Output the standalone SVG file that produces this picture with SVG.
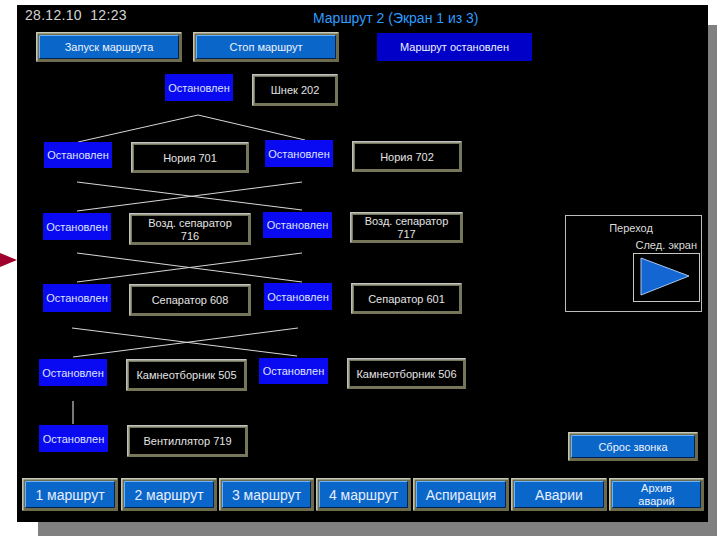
<svg xmlns="http://www.w3.org/2000/svg" width="717" height="536" viewBox="0 0 717 536">
<style>
text{font-family:"Liberation Sans",Arial,sans-serif;}
.nb{fill:#000;stroke:#76765a;stroke-width:3;}
.nh{fill:none;stroke:#c4c4c4;stroke-width:1.5;}
.bf{fill:#0a66c8;stroke:#6c6c4c;stroke-width:3;}
.bh{fill:none;stroke:#c8c8b8;stroke-width:1.5;}
.bi{fill:none;stroke:#6ab4ff;stroke-width:1;}
.bs{fill:none;stroke:#002050;stroke-width:1;}
.st{fill:#0a0af2;}
.lt{font-size:11px;fill:#dde3ff;text-anchor:middle;}
.nt{font-size:11px;fill:#e4e4e4;text-anchor:middle;}
.btx{font-size:11px;fill:#eef3ff;text-anchor:middle;}
.bbt{font-size:14px;fill:#e6eeff;text-anchor:middle;}
.cn{stroke:#d8d8d8;stroke-width:1;fill:none;}
</style>
<rect x="0" y="0" width="717" height="536" fill="#ffffff"/>
<rect x="708" y="25" width="9" height="511" fill="#808080"/>
<rect x="38" y="522" width="679" height="14" fill="#808080"/>
<rect x="17" y="5" width="691" height="517" fill="#000000"/>
<polygon points="0,253 17,260 0,267" fill="#a0002c"/>

<text x="25" y="20" font-size="14" fill="#d4d4d4" letter-spacing="0.3" xml:space="preserve">28.12.10  12:23</text>
<text x="313" y="23" font-size="14" fill="#2e9cff">Маршрут 2 (Экран 1 из 3)</text>

<g id="connectors">
<polyline class="cn" points="78,142 198,115 305,140"/>
<line class="cn" x1="77" y1="182" x2="302" y2="210"/>
<line class="cn" x1="77" y1="211" x2="302" y2="182"/>
<line class="cn" x1="77" y1="253" x2="302" y2="282"/>
<line class="cn" x1="77" y1="282" x2="302" y2="253"/>
<line class="cn" x1="72" y1="328" x2="297" y2="356"/>
<line class="cn" x1="73" y1="357" x2="298" y2="328"/>
<line x1="73" y1="401" x2="73" y2="424" stroke="#a0a0a0" stroke-width="1.5"/>
</g>

<g id="btn-start">
<rect class="bf" x="37.5" y="33.5" width="143" height="27"/>
<path class="bh" d="M36.8 61.2V32.8H181.2"/>
<path class="bi" d="M39.5 58.5V35.5H178.5"/>
<path class="bs" d="M39.5 58.5H178.5V35.5"/>
<text class="btx" x="109" y="51">Запуск маршрута</text>
</g>
<g id="btn-stop">
<rect class="bf" x="194.5" y="33.5" width="143" height="27"/>
<path class="bh" d="M193.8 61.2V32.8H338.2"/>
<path class="bi" d="M196.5 58.5V35.5H335.5"/>
<path class="bs" d="M196.5 58.5H335.5V35.5"/>
<text class="btx" x="266" y="51">Стоп маршрут</text>
</g>
<g id="status-route">
<rect x="377" y="33" width="155" height="28" fill="#0000c8"/>
<text class="btx" x="454.5" y="51">Маршрут остановлен</text>
</g>

<g id="st0"><rect class="st" x="165" y="74" width="68" height="27"/><text class="lt" x="199" y="91.5">Остановлен</text></g>
<g id="shnek202"><rect class="nb" x="253.5" y="75.5" width="83" height="29"/><path class="nh" d="M252.8 105.2V74.8H337.2"/><text class="nt" x="295" y="94">Шнек 202</text></g>

<g id="st1L"><rect class="st" x="44" y="142" width="68" height="26"/><text class="lt" x="78" y="159">Остановлен</text></g>
<g id="noriya701"><rect class="nb" x="132.5" y="143.5" width="115" height="28"/><path class="nh" d="M131.8 172.2V142.8H248.2"/><text class="nt" x="190" y="161.5">Нория 701</text></g>
<g id="st1R"><rect class="st" x="265" y="140" width="68" height="27"/><text class="lt" x="299" y="157.5">Остановлен</text></g>
<g id="noriya702"><rect class="nb" x="353.5" y="142.5" width="107" height="28"/><path class="nh" d="M352.8 171.2V141.8H461.2"/><text class="nt" x="407" y="160.5">Нория 702</text></g>

<g id="st2L"><rect class="st" x="43" y="213" width="68" height="27"/><text class="lt" x="77" y="230.5">Остановлен</text></g>
<g id="vozd716"><rect class="nb" x="130.5" y="214.5" width="119" height="29"/><path class="nh" d="M129.8 244.2V213.8H250.2"/><text class="nt" x="190" y="226.7">Возд. сепаратор</text><text class="nt" x="190" y="240">716</text></g>
<g id="st2R"><rect class="st" x="263" y="212" width="69" height="26"/><text class="lt" x="297.5" y="229">Остановлен</text></g>
<g id="vozd717"><rect class="nb" x="351.5" y="213.5" width="110" height="28"/><path class="nh" d="M350.8 242.2V212.8H462.2"/><text class="nt" x="406.5" y="224.7">Возд. сепаратор</text><text class="nt" x="406.5" y="238.3">717</text></g>

<g id="st3L"><rect class="st" x="43" y="284" width="68" height="28"/><text class="lt" x="77" y="302">Остановлен</text></g>
<g id="sep608"><rect class="nb" x="130.5" y="285.5" width="119" height="29"/><path class="nh" d="M129.8 315.2V284.8H250.2"/><text class="nt" x="190" y="304">Сепаратор 608</text></g>
<g id="st3R"><rect class="st" x="264" y="283" width="68" height="27"/><text class="lt" x="298" y="300.5">Остановлен</text></g>
<g id="sep601"><rect class="nb" x="352.5" y="284.5" width="108" height="28"/><path class="nh" d="M351.8 313.2V283.8H461.2"/><text class="nt" x="406.5" y="302.5">Сепаратор 601</text></g>

<g id="st4L"><rect class="st" x="39" y="359" width="68" height="27"/><text class="lt" x="73" y="376.5">Остановлен</text></g>
<g id="kam505"><rect class="nb" x="127.5" y="360.5" width="118" height="29"/><path class="nh" d="M126.8 390.2V359.8H246.2"/><text class="nt" x="186.5" y="379">Камнеотборник 505</text></g>
<g id="st4R"><rect class="st" x="259" y="358" width="69" height="26"/><text class="lt" x="293.5" y="375">Остановлен</text></g>
<g id="kam506"><rect class="nb" x="348.5" y="359.5" width="116" height="28"/><path class="nh" d="M347.8 388.2V358.8H465.2"/><text class="nt" x="406.5" y="377.5">Камнеотборник 506</text></g>

<g id="st5"><rect class="st" x="39" y="425" width="69" height="27"/><text class="lt" x="73.5" y="442.5">Остановлен</text></g>
<g id="vent719"><rect class="nb" x="128.5" y="426.5" width="118" height="29"/><path class="nh" d="M127.8 456.2V425.8H247.2"/><text class="nt" x="187.5" y="445">Вентиллятор 719</text></g>

<g id="nav-panel">
<rect x="565.5" y="215.5" width="136" height="96" fill="none" stroke="#bcbcbc" stroke-width="1"/>
<text x="631" y="232" font-size="11" fill="#dcdcdc" text-anchor="middle">Переход</text>
<text x="697" y="249" font-size="11" fill="#dcdcdc" text-anchor="end">След. экран</text>
<rect x="633.5" y="253.5" width="66" height="48" fill="none" stroke="#c8c8c8" stroke-width="1"/>
<polygon points="641,258 689,276 641,295" fill="#1466d2" stroke="#a8c8f0" stroke-width="1"/>
</g>

<g id="btn-reset">
<rect class="bf" x="569.5" y="433.5" width="127" height="26"/>
<path class="bh" d="M568.8 460.2V432.8H697.2"/>
<path class="bi" d="M571.5 457.5V435.5H694.5"/>
<path class="bs" d="M571.5 457.5H694.5V435.5"/>
<text class="btx" x="633" y="450.5">Сброс звонка</text>
</g>

<g id="btn-r1">
<rect class="bf" x="23.5" y="479.5" width="93" height="30"/><path class="bh" d="M22.8 510.2V478.8H117.2"/><path class="bi" d="M25.5 507.5V481.5H114.5"/><path class="bs" d="M25.5 507.5H114.5V481.5"/>
<text class="bbt" x="70" y="499.5">1 маршрут</text>
</g>
<g id="btn-r2">
<rect class="bf" x="122.5" y="479.5" width="93" height="30"/><path class="bh" d="M121.8 510.2V478.8H216.2"/><path class="bi" d="M124.5 507.5V481.5H213.5"/><path class="bs" d="M124.5 507.5H213.5V481.5"/>
<text class="bbt" x="169" y="499.5">2 маршрут</text>
</g>
<g id="btn-r3">
<rect class="bf" x="220.5" y="479.5" width="92" height="30"/><path class="bh" d="M219.8 510.2V478.8H313.2"/><path class="bi" d="M222.5 507.5V481.5H310.5"/><path class="bs" d="M222.5 507.5H310.5V481.5"/>
<text class="bbt" x="266.5" y="499.5">3 маршрут</text>
</g>
<g id="btn-r4">
<rect class="bf" x="317.5" y="479.5" width="92" height="30"/><path class="bh" d="M316.8 510.2V478.8H410.2"/><path class="bi" d="M319.5 507.5V481.5H407.5"/><path class="bs" d="M319.5 507.5H407.5V481.5"/>
<text class="bbt" x="363.5" y="499.5">4 маршрут</text>
</g>
<g id="btn-asp">
<rect class="bf" x="414.5" y="479.5" width="93" height="30"/><path class="bh" d="M413.8 510.2V478.8H508.2"/><path class="bi" d="M416.5 507.5V481.5H505.5"/><path class="bs" d="M416.5 507.5H505.5V481.5"/>
<text class="bbt" x="461" y="499.5">Аспирация</text>
</g>
<g id="btn-alarms">
<rect class="bf" x="512.5" y="479.5" width="93" height="30"/><path class="bh" d="M511.8 510.2V478.8H606.2"/><path class="bi" d="M514.5 507.5V481.5H603.5"/><path class="bs" d="M514.5 507.5H603.5V481.5"/>
<text class="bbt" x="559" y="499.5">Аварии</text>
</g>
<g id="btn-archive">
<rect class="bf" x="610.5" y="479.5" width="92" height="30"/><path class="bh" d="M609.8 510.2V478.8H703.2"/><path class="bi" d="M612.5 507.5V481.5H700.5"/><path class="bs" d="M612.5 507.5H700.5V481.5"/>
<text class="btx" x="656.5" y="492" font-size="12">Архив</text>
<text class="btx" x="656.5" y="505" font-size="12">аварий</text>
</g>
</svg>
